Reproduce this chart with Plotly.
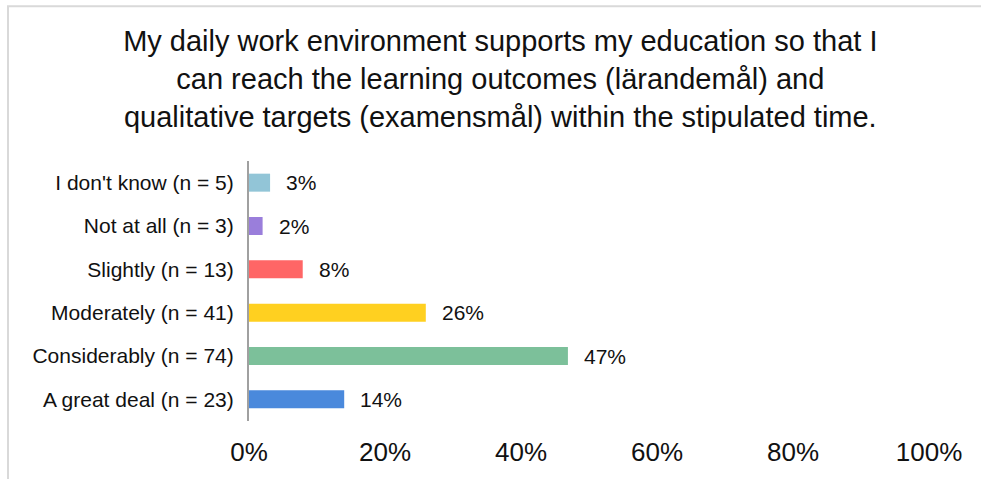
import plotly.graph_objects as go

categories = ["A great deal (n = 23)", "Considerably (n = 74)", "Moderately (n = 41)",
              "Slightly (n = 13)", "Not at all (n = 3)", "I don't know (n = 5)"]
values = [14.0, 46.9, 26.0, 7.9, 2.0, 3.1]
labels = ["14%", "47%", "26%", "8%", "2%", "3%"]
colors = ["#4A89DC", "#7CC09A", "#FFD020", "#FF6666", "#9A7EDB", "#92C5D7"]
x_ticks = [0, 20, 40, 60, 80, 100]
x_tick_labels = ["0%", "20%", "40%", "60%", "80%", "100%"]

title = ("My daily work environment supports my education so that I<br>"
         "can reach the learning outcomes (lärandemål) and<br>"
         "qualitative targets (examensmål) within the stipulated time.")

FONT = "Liberation Sans, Arial, sans-serif"

fig = go.Figure()
fig.add_trace(go.Bar(
    y=categories, x=values, orientation="h",
    marker=dict(color=colors, line=dict(width=0)),
    hoverinfo="skip",
))

for c, v, l in zip(categories, values, labels):
    fig.add_annotation(x=v, y=c, text=l, showarrow=False, xanchor="left",
                       xshift=14, font=dict(size=21, color="#111111", family=FONT))

fig.update_layout(
    width=981, height=479,
    margin=dict(l=249, r=52, t=161, b=58),
    paper_bgcolor="white", plot_bgcolor="white",
    bargap=0.585,
    showlegend=False,
    font=dict(family=FONT, color="#111111"),
    title=dict(text=title, x=0.51, xanchor="center", xref="container",
               y=0.893, yanchor="top", yref="container",
               font=dict(size=29, color="#111111")),
    xaxis=dict(range=[0, 100], tickvals=x_ticks, ticktext=x_tick_labels,
               showgrid=False, zeroline=False, showline=False,
               tickfont=dict(size=26, color="#111111"),
               ticklabelstandoff=13, fixedrange=True),
    yaxis=dict(showline=True, linecolor="#a0a0a0", linewidth=2,
               showgrid=False, zeroline=False, ticks="",
               tickfont=dict(size=21, color="#111111"),
               ticklabelstandoff=9, fixedrange=True),
    shapes=[dict(type="rect", xref="paper", yref="paper",
                 x0=-0.3544, x1=1.3, y0=-0.6, y1=1.595,
                 line=dict(color="#d9d9d9", width=2), layer="below")],
)

fig.write_html("out.html", config={"displayModeBar": False},
               post_script="document.body.style.margin='0';document.body.style.overflow='hidden';")
